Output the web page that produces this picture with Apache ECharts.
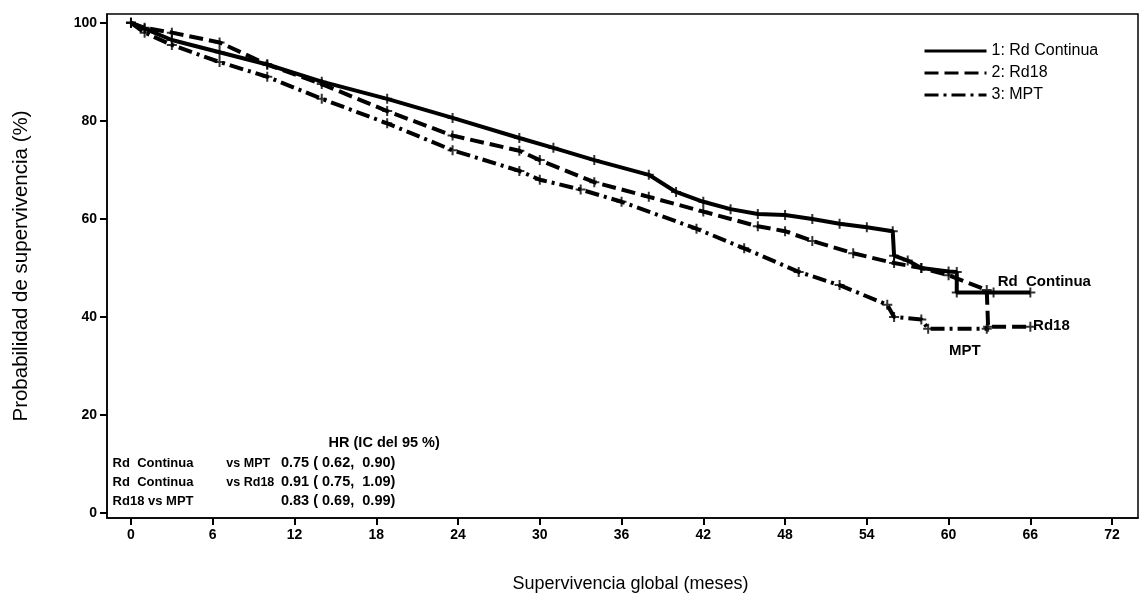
<!DOCTYPE html>
<html>
<head>
<meta charset="utf-8">
<script src="https://cdn.jsdelivr.net/npm/echarts@6/dist/echarts.min.js"></script>
<style>
  html, body { margin: 0; padding: 0; background: #fff; }
  #chart { width: 1142px; height: 609px; }
</style>
</head>
<body>
<div id="chart"></div>
<script>
// months / survival (%)
var rdcMonths = [0, 1, 3, 6.5, 10, 14, 18.8, 23.6, 28.5, 31, 34, 38, 40, 42, 44, 46, 48, 50, 52, 54, 55.9, 56, 57, 58, 60, 60.6, 60.6, 63.3, 66];
var rdcSurv   = [100, 98.8, 96.5, 94, 91.5, 88, 84.5, 80.6, 76.5, 74.5, 72, 69, 65.5, 63.5, 62, 61, 60.8, 60, 59, 58.3, 57.5, 52.5, 51.5, 50, 49.3, 49.2, 45, 45, 45];

var rd18Months = [0, 1, 3, 6.5, 10, 14, 18.8, 23.6, 28.5, 30, 34, 38, 42, 46, 48, 50, 53, 56, 58, 60, 62.8, 62.9, 66];
var rd18Surv   = [100, 99, 98, 96, 91.5, 87.5, 82, 77, 73.9, 72, 67.5, 64.5, 61.5, 58.5, 57.5, 55.5, 53, 51, 50, 48.5, 45.5, 38, 38];

var mptMonths = [0, 1, 3, 6.5, 10, 14, 18.8, 23.6, 28.5, 30, 33, 36, 41.5, 45, 49, 52, 55.5, 56, 58, 58.5, 62.8];
var mptSurv   = [100, 98, 95.5, 92, 89, 84.5, 79.5, 74, 69.8, 68, 66, 63.5, 58, 54, 49.2, 46.5, 42.5, 40, 39.5, 37.6, 37.6];

var seriesNames = ['1: Rd Continua', '2: Rd18', '3: MPT'];
var xTicks = [0, 6, 12, 18, 24, 30, 36, 42, 48, 54, 60, 66, 72];
var yTicks = [0, 20, 40, 60, 80, 100];

var hrHeader = 'HR (IC del 95 %)';
var hrGroups = ['Rd  Continua', 'Rd  Continua', 'Rd18 vs MPT'];
var hrVs = ['vs MPT', 'vs Rd18', ''];
var hrValues = ['0.75 ( 0.62,  0.90)', '0.91 ( 0.75,  1.09)', '0.83 ( 0.69,  0.99)'];

function pairs(xs, ys) {
    var out = [];
    for (var i = 0; i < xs.length; i++) out.push([xs[i], ys[i]]);
    return out;
}

var curves = [pairs(rdcMonths, rdcSurv), pairs(rd18Months, rd18Surv), pairs(mptMonths, mptSurv)];
var dashTypes = ['solid', [14, 6], [14, 5, 3, 5]];
var plus = 'path://M4,0L6,0L6,4L10,4L10,6L6,6L6,10L4,10L4,6L0,6L0,4L4,4Z';

var myChart = echarts.init(document.getElementById('chart'));

var series = [];
for (var k = 0; k < 3; k++) {
    series.push({
        name: seriesNames[k],
        type: 'line',
        data: curves[k],
        symbol: 'none',
        silent: true,
        lineStyle: { color: '#000', width: 4, type: dashTypes[k] },
        itemStyle: { color: '#000' }
    });
    series.push({
        name: 'censor' + k,
        type: 'scatter',
        data: curves[k],
        symbol: plus,
        symbolSize: 10,
        silent: true,
        itemStyle: { color: '#000' }
    });
}

var labelFont = { fontFamily: 'Liberation Sans', fontWeight: 'bold', fontSize: 14, color: '#000' };

myChart.setOption({
    animation: false,
    backgroundColor: '#fff',
    grid: {
        left: 107, right: 4, top: 14, bottom: 91,
        show: true, borderColor: '#000', borderWidth: 1.5
    },
    legend: {
        data: seriesNames,
        orient: 'vertical',
        left: 918, top: 38,
        itemWidth: 62, itemHeight: 14, itemGap: 6,
        itemStyle: { opacity: 0 },
        lineStyle: { width: 3 },
        textStyle: { fontFamily: 'Liberation Sans', fontSize: 16, color: '#000' }
    },
    xAxis: {
        type: 'value',
        min: -1.76, max: 73.9,
        name: 'Supervivencia global (meses)',
        nameLocation: 'middle',
        nameGap: 57,
        nameTextStyle: { fontFamily: 'Liberation Sans', fontSize: 18, color: '#000', padding: [0, 0, 0, 16] },
        axisLine: { onZero: false, lineStyle: { color: '#000', width: 1.5 } },
        axisTick: { customValues: xTicks, length: 7, lineStyle: { color: '#000', width: 2 } },
        axisLabel: Object.assign({ customValues: xTicks, margin: 10 }, labelFont),
        splitLine: { show: false }
    },
    yAxis: {
        type: 'value',
        min: -1.0, max: 101.8,
        name: 'Probabilidad de supervivencia (%)',
        nameLocation: 'middle',
        nameGap: 75,
        nameRotate: 90,
        nameTextStyle: { fontFamily: 'Liberation Sans', fontSize: 20.5, color: '#000' },
        axisLine: { onZero: false, lineStyle: { color: '#000', width: 1.5 } },
        axisTick: { customValues: yTicks, length: 7, lineStyle: { color: '#000', width: 2 } },
        axisLabel: Object.assign({ customValues: yTicks, margin: 10 }, labelFont),
        splitLine: { show: false }
    },
    series: series
});

// text placed in data coordinates so it follows the axes
function px(x, y) { return myChart.convertToPixel({ gridIndex: 0 }, [x, y]); }

var txt = { fontFamily: 'Liberation Sans', fontSize: 13, fontWeight: 'bold', fill: '#000', textVerticalAlign: 'middle' };
var big = { fontFamily: 'Liberation Sans', fontSize: 14.5, fontWeight: 'bold', fill: '#000', textVerticalAlign: 'middle' };
var g = [];
var p = px(14.5, 14.2);
g.push({ type: 'text', x: p[0], y: p[1], style: Object.assign({ text: hrHeader }, big) });
for (var i = 0; i < 3; i++) {
    var yv = 10.2 - i * 3.9;
    var a = px(-1.35, yv), b = px(7.0, yv), c = px(11.0, yv);
    g.push({ type: 'text', x: a[0], y: a[1], style: Object.assign({ text: hrGroups[i] }, txt) });
    g.push({ type: 'text', x: b[0], y: b[1], style: Object.assign({ text: hrVs[i] }, txt, { fontSize: 12.5 }) });
    g.push({ type: 'text', x: c[0], y: c[1], style: Object.assign({ text: hrValues[i] }, big) });
}
var endTxt = { fontFamily: 'Liberation Sans', fontSize: 15, fontWeight: 'bold', fill: '#000', textVerticalAlign: 'middle' };
var e1 = px(63.6, 47.2), e2 = px(66.2, 38.2), e3 = px(61.2, 33);
g.push({ type: 'text', x: e1[0], y: e1[1], style: Object.assign({ text: 'Rd  Continua' }, endTxt) });
g.push({ type: 'text', x: e2[0], y: e2[1], style: Object.assign({ text: 'Rd18' }, endTxt) });
g.push({ type: 'text', x: e3[0], y: e3[1], style: Object.assign({ text: 'MPT', textAlign: 'center' }, endTxt) });
myChart.setOption({ graphic: g });
</script>
</body>
</html>
